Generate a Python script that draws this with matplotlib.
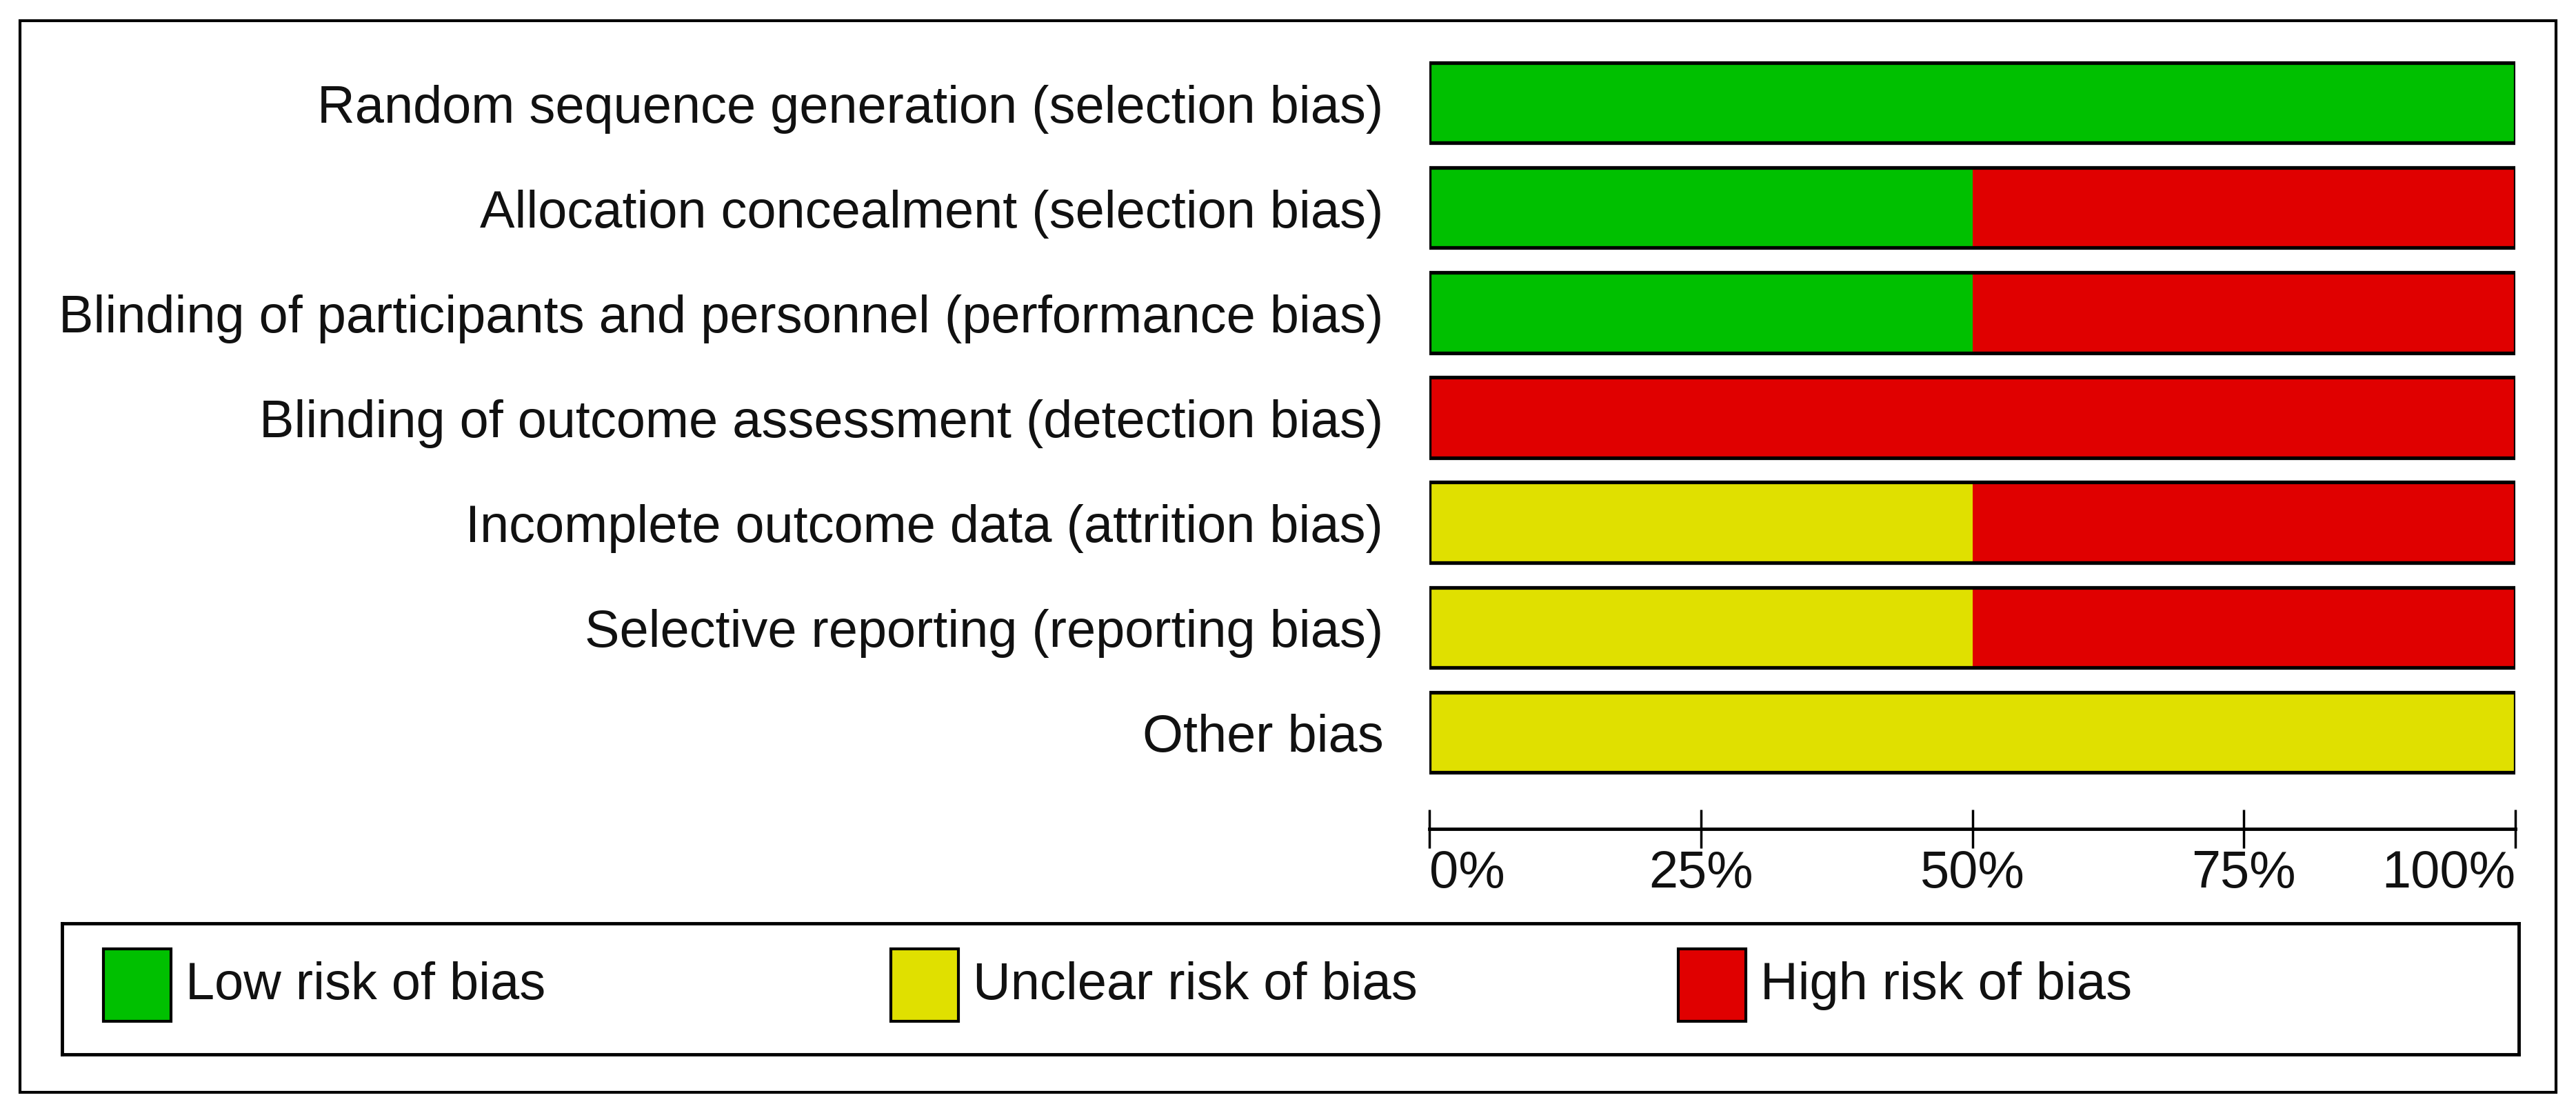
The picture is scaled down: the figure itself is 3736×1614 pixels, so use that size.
import numpy as np
import matplotlib
matplotlib.use("Agg")
import matplotlib.pyplot as plt
from matplotlib.patches import Rectangle

plt.rcParams['font.family'] = ['Liberation Sans', 'DejaVu Sans']

# Risk of bias domains (top to bottom)
domains = [
    "Random sequence generation (selection bias)",
    "Allocation concealment (selection bias)",
    "Blinding of participants and personnel (performance bias)",
    "Blinding of outcome assessment (detection bias)",
    "Incomplete outcome data (attrition bias)",
    "Selective reporting (reporting bias)",
    "Other bias",
]
# percentages per judgement
low_risk = [100, 50, 50, 0, 0, 0, 0]
unclear_risk = [0, 0, 0, 0, 50, 50, 100]
high_risk = [0, 50, 50, 100, 50, 50, 0]

legend_labels = ["Low risk of bias", "Unclear risk of bias", "High risk of bias"]
colors = ["#00c000", "#e0e000", "#e00000"]
tick_values = [0, 25, 50, 75, 100]
tick_labels = ["0%", "25%", "50%", "75%", "100%"]

W, H = 3736, 1615
fig = plt.figure(figsize=(W / 100, H / 100), dpi=100)

# outer frame
fig.patches.append(Rectangle((29 / W, 1 - 1585 / H), (3707 - 29) / W, (1585 - 31) / H,
                             transform=fig.transFigure, fill=False,
                             edgecolor='black', linewidth=3))

# bars: row centres ~150 px .. ~1063 px from top
top_px, bot_px = 150 - 76, 1063 + 76
ax = fig.add_axes([2073 / W, 1 - bot_px / H, (3648 - 2073) / W, (bot_px - top_px) / H])
y = np.arange(len(domains))
low = np.array(low_risk)
unc = np.array(unclear_risk)
high = np.array(high_risk)
ax.barh(y, low, height=0.766, color=colors[0], linewidth=0)
ax.barh(y, unc, left=low, height=0.766, color=colors[1], linewidth=0)
ax.barh(y, high, left=low + unc, height=0.766, color=colors[2], linewidth=0)
ax.barh(y, low + unc + high, height=0.766, fill=False, edgecolor='black', linewidth=3.8)

ax.set_xlim(0, 100)
ax.set_ylim(len(domains) - 0.5, -0.5)
ax.set_yticks(y)
ax.set_yticklabels(domains, fontsize=54.5, color='#111111')
ax.tick_params(axis='y', length=0, pad=48)
for s in ['top', 'right', 'left']:
    ax.spines[s].set_visible(False)
ax.spines['bottom'].set_position(('outward', 46))
ax.spines['bottom'].set_linewidth(3.5)
ax.set_xticks(tick_values)
ax.set_xticklabels(tick_labels, fontsize=54.5, color='#111111')
ax.tick_params(axis='x', direction='inout', length=40, width=2.5, pad=1)
labs = ax.get_xticklabels()
labs[0].set_ha('left')
labs[-1].set_ha('right')
ax.patch.set_visible(False)

# legend box
lx0, lx1, ly0, ly1 = 90, 3653, 1340, 1530
axl = fig.add_axes([lx0 / W, 1 - ly1 / H, (lx1 - lx0) / W, (ly1 - ly0) / H])
axl.set_xlim(0, lx1 - lx0)
axl.set_ylim(0, ly1 - ly0)
axl.set_xticks([])
axl.set_yticks([])
for s in axl.spines.values():
    s.set_linewidth(3.5)
for i, (lab, c) in enumerate(zip(legend_labels, colors)):
    x0 = 60 + i * 1142
    axl.add_patch(Rectangle((x0, 48), 98, 105, facecolor=c, edgecolor='black', linewidth=3))
    axl.text(x0 + 119, 100, lab, fontsize=54.5, va='center', ha='left', color='#111111')

fig.savefig("out.png", dpi=100)
